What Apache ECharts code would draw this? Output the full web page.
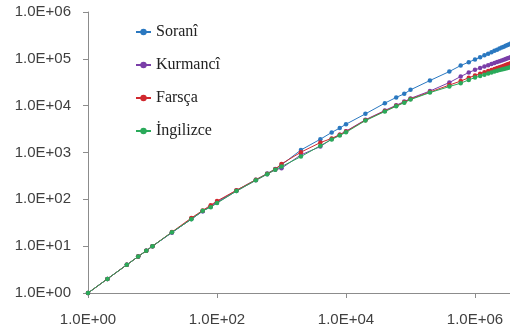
<!DOCTYPE html>
<html>
<head>
<meta charset="utf-8">
<script src="https://cdn.jsdelivr.net/npm/echarts/dist/echarts.min.js"></script>
<style>
  html, body { margin: 0; padding: 0; background: #fff; }
  #chart { width: 510px; height: 333px; }
</style>
</head>
<body>
<div id="chart"></div>
<script>
const tokens = [1, 2, 4, 6, 8, 10, 20, 40, 60, 80, 100, 200, 400, 600, 800, 1000, 2000, 4000, 6000, 8000,
  10000, 20000, 40000, 60000, 80000, 100000, 200000, 400000, 600000, 800000, 1000000,
  1200000, 1400000, 1600000, 1800000, 2000000, 2200000, 2400000, 2600000, 2800000, 3000000, 3200000, 3400000, 3600000];

const sorani = [1, 2, 4, 6, 8, 10, 19.5, 38, 56, 72, 88, 155, 262, 355, 445, 545, 1130, 1920, 2680, 3330,
  4020, 6680, 11300, 15000, 17900, 21800, 34400, 53500, 71900, 85000, 96600,
  108000, 119000, 129000, 139000, 148000, 157000, 166000, 174000, 182000, 190000, 198000, 206000, 213000];

const kurmanci = [1, 2, 4, 6, 8, 10, 19.6, 38, 56, 70, 85, 150, 255, 345, 430, 462, 889, 1337, 1950, 2400,
  2850, 5000, 7900, 10200, 12200, 14300, 20500, 31200, 41900, 51000, 58200,
  63500, 68500, 73000, 77500, 81500, 85500, 89000, 92500, 96000, 99500, 103000, 106000, 109000];

const farsca = [1, 2, 4, 6, 8, 10, 20, 40, 58, 75, 92, 156, 262, 352, 440, 571, 1015, 1630, 2000, 2400,
  2800, 4900, 7700, 9900, 11900, 13900, 19500, 27500, 33500, 39500, 44000,
  48000, 51500, 55000, 58000, 61000, 64000, 66500, 69000, 71500, 74000, 76500, 78500, 80500];

const ingilizce = [1, 2, 4, 6, 8, 10, 19.8, 37.6, 57, 68, 83, 150, 255, 345, 430, 500, 817, 1400, 1900, 2300,
  2700, 4800, 7500, 9700, 11600, 13500, 19000, 25600, 30200, 35500, 39800,
  43000, 46000, 48500, 51000, 53500, 55500, 57500, 59500, 61000, 62500, 64000, 65500, 67000];

const seriesNames = ["Soranî", "Kurmancî", "Farsça", "İngilizce"];
const seriesColors = ["#2a78c0", "#7a3ea8", "#d0282e", "#2aaa5a"];
const seriesValues = [sorani, kurmanci, farsca, ingilizce];

function sci(value) {
  const exp = Math.round(Math.log10(value));
  return "1.0E+" + String(exp).padStart(2, "0");
}

const axisText = { fontFamily: "Liberation Sans", fontSize: 15, color: "#404040" };

const chart = echarts.init(document.getElementById("chart"));
chart.setOption({
  animation: false,
  backgroundColor: "#fff",
  grid: { left: 88, top: 12, bottom: 40, right: -29.5, outerBoundsMode: "none", containLabel: false },
  legend: {
    orient: "vertical",
    left: 130,
    top: 19,
    itemWidth: 15,
    itemHeight: 8,
    itemGap: 17,
    textStyle: { fontFamily: "Liberation Serif", fontSize: 16, color: "#222", lineHeight: 16 },
    data: seriesNames
  },
  xAxis: {
    type: "log",
    logBase: 10,
    min: 1,
    max: 10000000,
    interval: 2,
    axisLine: { lineStyle: { color: "#8c8c8c" } },
    axisTick: { show: true, length: 5, lineStyle: { color: "#8c8c8c" } },
    axisLabel: Object.assign({ margin: 19, formatter: sci, showMaxLabel: false }, axisText),
    splitLine: { show: false },
    minorTick: { show: false }
  },
  yAxis: {
    type: "log",
    logBase: 10,
    min: 1,
    max: 1000000,
    interval: 1,
    axisLine: { show: true, lineStyle: { color: "#8c8c8c" } },
    axisTick: { show: true, length: 5, lineStyle: { color: "#8c8c8c" } },
    axisLabel: Object.assign({ margin: 17, formatter: sci }, axisText),
    splitLine: { show: false }
  },
  series: seriesNames.map((name, i) => ({
    name,
    type: "line",
    data: tokens.map((t, j) => [t, seriesValues[i][j]]),
    symbol: "circle",
    symbolSize: 4.5,
    showSymbol: true,
    color: seriesColors[i],
    lineStyle: { width: 1, color: seriesColors[i] },
    itemStyle: { color: seriesColors[i] },
    z: 2 + i
  }))
});
</script>
</body>
</html>
